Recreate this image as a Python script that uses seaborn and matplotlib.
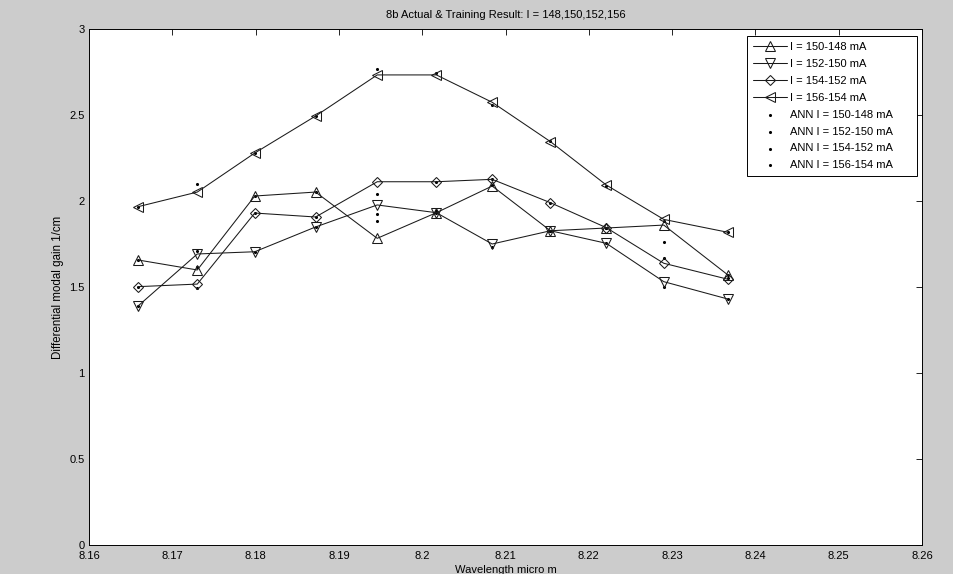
import matplotlib
matplotlib.use("Agg")
import matplotlib.pyplot as plt
import seaborn as sns

# ---- data ----
wavelength = [8.1659, 8.1730, 8.1799, 8.1872, 8.1946, 8.2017, 8.2084, 8.2154, 8.2221, 8.2290, 8.2367]

gain_150_148 = [1.657, 1.599, 2.029, 2.052, 1.783, 1.932, 2.087, 1.827, 1.843, 1.860, 1.570]
gain_152_150 = [1.390, 1.692, 1.705, 1.849, 1.977, 1.932, 1.750, 1.827, 1.754, 1.531, 1.430]
gain_154_152 = [1.502, 1.517, 1.930, 1.907, 2.112, 2.112, 2.126, 1.990, 1.845, 1.638, 1.545]
gain_156_154 = [1.967, 2.052, 2.279, 2.494, 2.733, 2.733, 2.574, 2.345, 2.093, 1.893, 1.818]

ann_150_148 = [1.657, 1.616, 2.029, 2.052, 1.884, 1.932, 2.093, 1.827, 1.843, 1.760, 1.570]
ann_152_150 = [1.390, 1.709, 1.705, 1.849, 1.923, 1.940, 1.733, 1.827, 1.754, 1.502, 1.430]
ann_154_152 = [1.502, 1.492, 1.930, 1.907, 2.039, 2.112, 2.130, 1.990, 1.845, 1.669, 1.555]
ann_156_154 = [1.967, 2.099, 2.279, 2.494, 2.767, 2.746, 2.558, 2.351, 2.089, 1.886, 1.818]

series_labels = ["I = 150-148 mA", "I = 152-150 mA", "I = 154-152 mA", "I = 156-154 mA"]
ann_labels = ["ANN I = 150-148 mA", "ANN I = 152-150 mA", "ANN I = 154-152 mA", "ANN I = 156-154 mA"]

x_ticks = [8.16, 8.17, 8.18, 8.19, 8.20, 8.21, 8.22, 8.23, 8.24, 8.25, 8.26]
x_tick_labels = ["8.16", "8.17", "8.18", "8.19", "8.2", "8.21", "8.22", "8.23", "8.24", "8.25", "8.26"]
y_ticks = [0, 0.5, 1, 1.5, 2, 2.5, 3]
y_tick_labels = ["0", "0.5", "1", "1.5", "2", "2.5", "3"]

title = "8b Actual & Training Result: I = 148,150,152,156"
x_label = "Wavelength micro m"
y_label = "Differential modal gain 1/cm"

# ---- style ----
sns.set_theme(style="white")
plt.rcParams["font.family"] = ["Liberation Sans", "DejaVu Sans"]
plt.rcParams["text.color"] = "black"
plt.rcParams["axes.labelcolor"] = "black"
plt.rcParams["xtick.color"] = "black"
plt.rcParams["ytick.color"] = "black"

W, H = 954, 574
fig = plt.figure(figsize=(W / 100, H / 100), dpi=100, facecolor="#cccccc")
ax = fig.add_axes([89 / W, 29 / H, (922 - 89) / W, (545 - 29) / H])
ax.set_facecolor("white")

actual = [gain_150_148, gain_152_150, gain_154_152, gain_156_154]
ann = [ann_150_148, ann_152_150, ann_154_152, ann_156_154]
markers = ["^", "v", "D", "<"]
msizes = [7.0, 7.0, 5.4, 7.0]

for vals, lab, m, ms in zip(actual, series_labels, markers, msizes):
    sns.lineplot(x=wavelength, y=vals, ax=ax, color="#1a1a1a", linewidth=0.75,
                 marker=m, markersize=ms, markerfacecolor="none",
                 markeredgecolor="#1a1a1a", markeredgewidth=0.75,
                 label=lab, sort=False)

for vals, lab in zip(ann, ann_labels):
    sns.scatterplot(x=wavelength, y=vals, ax=ax, color="black", marker="o",
                    s=5, linewidth=0, label=lab)

ax.set_xlim(8.16, 8.26)
ax.set_ylim(0, 3)
ax.set_xticks(x_ticks)
ax.set_xticklabels(x_tick_labels)
ax.set_yticks(y_ticks)
ax.set_yticklabels(y_tick_labels)
ax.tick_params(direction="in", length=4, width=0.6, top=True, right=True,
               labelsize=8, colors="black")
ax.tick_params(axis="x", pad=4)
ax.tick_params(axis="y", pad=3)
for sp in ax.spines.values():
    sp.set_visible(True)
    sp.set_color("black")
    sp.set_linewidth(0.7)

ax.set_title(title, fontsize=8, pad=8)
ax.set_xlabel(x_label, fontsize=8, labelpad=3)
ax.set_ylabel(y_label, fontsize=8.3, labelpad=4)

# legend box: x 747..917 px, top at 36 px
x0 = (747 - 89) / 833
wleg = (917 - 747) / 833
ytop = (545 - 36) / 516
leg = ax.legend(loc="upper left", bbox_to_anchor=(x0, 0.0, wleg, ytop),
                mode="expand", borderaxespad=0.0,
                fontsize=8, frameon=True, fancybox=False,
                edgecolor="black", framealpha=1,
                handlelength=3.05, handletextpad=0.3, labelspacing=0.62,
                borderpad=0.55, markerscale=1.0)
leg.get_frame().set_linewidth(0.7)

fig.savefig("out.png", dpi=100, facecolor=fig.get_facecolor())
